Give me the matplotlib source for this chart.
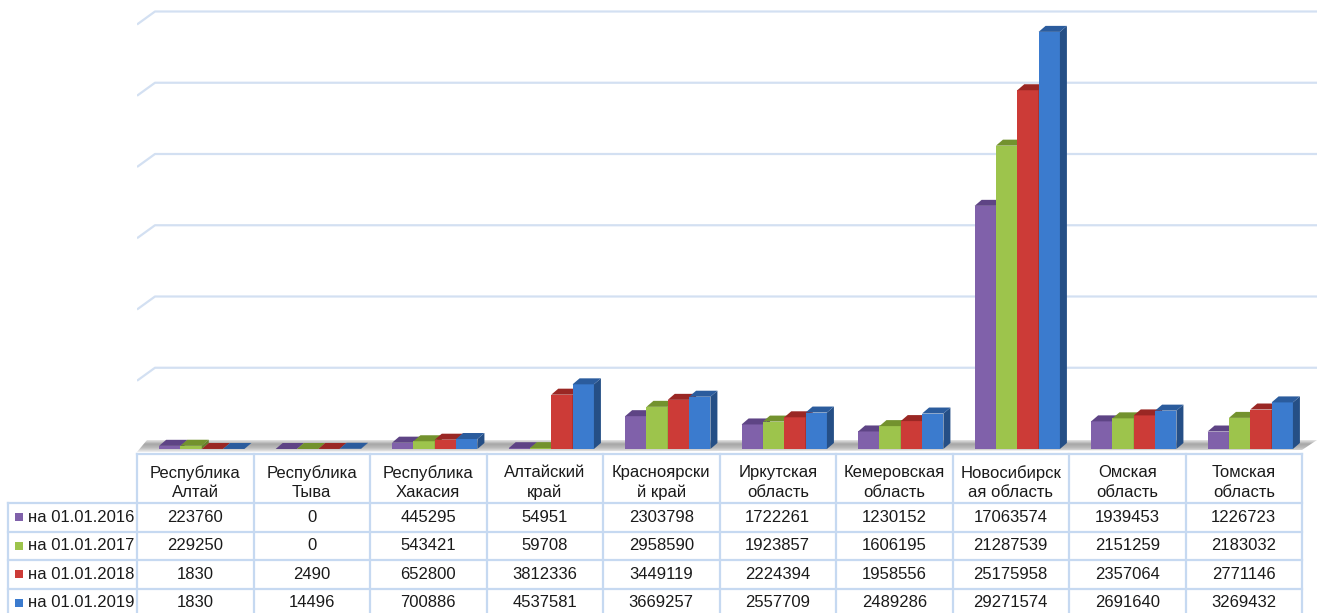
import matplotlib.pyplot as plt
import numpy as np
from matplotlib.colors import LinearSegmentedColormap
from matplotlib.patches import Polygon, Rectangle

plt.rcParams['font.family'] = ['Liberation Sans', 'DejaVu Sans']

regions = ["Республика\nАлтай", "Республика\nТыва", "Республика\nХакасия",
           "Алтайский\nкрай", "Красноярски\nй край", "Иркутская\nобласть",
           "Кемеровская\nобласть", "Новосибирск\nая область", "Омская\nобласть",
           "Томская\nобласть"]
series_names = ["на 01.01.2016", "на 01.01.2017", "на 01.01.2018", "на 01.01.2019"]
v2016 = [223760, 0, 445295, 54951, 2303798, 1722261, 1230152, 17063574, 1939453, 1226723]
v2017 = [229250, 0, 543421, 59708, 2958590, 1923857, 1606195, 21287539, 2151259, 2183032]
v2018 = [1830, 2490, 652800, 3812336, 3449119, 2224394, 1958556, 25175958, 2357064, 2771146]
v2019 = [1830, 14496, 700886, 4537581, 3669257, 2557709, 2489286, 29271574, 2691640, 3269432]
series = [v2016, v2017, v2018, v2019]
grid_values = [5e6, 10e6, 15e6, 20e6, 25e6, 30e6]

front = ['#8061AA', '#9DC44C', '#CC3B37', '#3B7BCE']
top = ['#5E4485', '#73922E', '#9A2724', '#2B5C9D']
side = ['#4E396E', '#65812A', '#872320', '#254F86']
grid_c = '#D3E0F2'
table_c = '#C6D9F1'
text_c = '#1A1A1A'

W, H = 1317, 613
fig = plt.figure(figsize=(W / 100, H / 100), dpi=100)

# pixel layout of the plot area
left_px, right_px = 137, 1302
cell = (right_px - left_px) / len(regions)
zero_px = 449
px_per_val = 14.25e-6
PX = 1.0 / cell              # one pixel in x data units
PY = 1.0 / px_per_val        # one pixel in y data units

ax = fig.add_axes([left_px / W, (H - 455) / H, (W - left_px) / W, 455 / H])
ax.set_xlim(-0.5, -0.5 + (W - left_px) / cell)
ax.set_ylim(-6 * PY, zero_px * PY)
ax.axis('off')

n = len(regions)
xl = -0.5
xr = n - 0.5

# back wall gridlines with small diagonal on the left side wall
for g in grid_values:
    ax.plot([xl, xl + 18 * PX, xr + 18 * PX], [g - 3 * PY, g + 10 * PY, g + 10 * PY],
            color=grid_c, lw=1.6, solid_capstyle='butt', zorder=1)

# floor with gradient
floor = Polygon([(xl, -3 * PY), (xr, -1 * PY), (xr + 15 * PX, 9 * PY), (xl + 10 * PX, 9 * PY)],
                closed=True, facecolor='none', edgecolor='none', zorder=2)
ax.add_patch(floor)
grad = np.linspace(0, 1, 50).reshape(-1, 1)
fl_cmap = LinearSegmentedColormap.from_list('fl', ['#E4E4E4', '#A6A6A6', '#BDBDBD', '#EFEFEF'])
im = ax.imshow(grad, cmap=fl_cmap, extent=[xl, xr + 16 * PX, -3 * PY, 9 * PY],
               aspect='auto', origin='upper', zorder=2)
im.set_clip_path(floor)

# 3D-looking columns, painted left to right
bw = 0.183
start = -0.31
dx, dy = 7 * PX, 6 * PY
xs = np.arange(n)
for i, vals in enumerate(series):
    bars = ax.bar(xs + start + bw * i + bw / 2, vals, width=bw, color=front[i],
                  edgecolor='none')
    for c, rect in enumerate(bars):
        v = vals[c]
        x0 = rect.get_x()
        x1 = x0 + rect.get_width()
        zo = 3 + c * 0.01 + i * 0.001
        rect.set_zorder(zo)
        ax.add_patch(Polygon([(x1, 0), (x1 + dx, dy), (x1 + dx, v + dy), (x1, v)],
                             closed=True, facecolor=side[i], edgecolor='none', zorder=zo + 0.0001))
        ax.add_patch(Polygon([(x0, v), (x1, v), (x1 + dx, v + dy), (x0 + dx, v + dy)],
                             closed=True, facecolor=top[i], edgecolor='none', zorder=zo + 0.0002))

# data table
tab = fig.add_axes([0, 0, 1, 1])
tab.set_xlim(0, W)
tab.set_ylim(H, 0)
tab.axis('off')
tab.patch.set_alpha(0)

head_top, head_bot = 454, 503
row_h = 28.5
row_tops = [head_bot + row_h * r for r in range(len(series) + 1)]
edges = [left_px + cell * c for c in range(n + 1)]
key_left = 8

tab.plot([left_px, right_px], [head_top, head_top], color=table_c, lw=1.6)
for y in row_tops:
    tab.plot([key_left, right_px], [y, y], color=table_c, lw=1.6)
for x in edges:
    tab.plot([x, x], [head_top, H + 5], color=table_c, lw=1.6)
tab.plot([key_left, key_left], [head_bot, H + 5], color=table_c, lw=1.6)

for c, name in enumerate(regions):
    tab.text((edges[c] + edges[c + 1]) / 2, (head_top + head_bot) / 2 + 4, name,
             ha='center', va='center', fontsize=12, color=text_c, linespacing=1.35)

for r, (lab, vals) in enumerate(zip(series_names, series)):
    yc = row_tops[r] + row_h / 2
    tab.add_patch(Rectangle((15, yc - 4), 8, 8, facecolor=front[r], edgecolor='none'))
    tab.text(28, yc, lab, ha='left', va='center', fontsize=12, color=text_c)
    for c in range(n):
        tab.text((edges[c] + edges[c + 1]) / 2, yc, str(vals[c]),
                 ha='center', va='center', fontsize=12, color=text_c)

fig.savefig('out.png', dpi=100)
